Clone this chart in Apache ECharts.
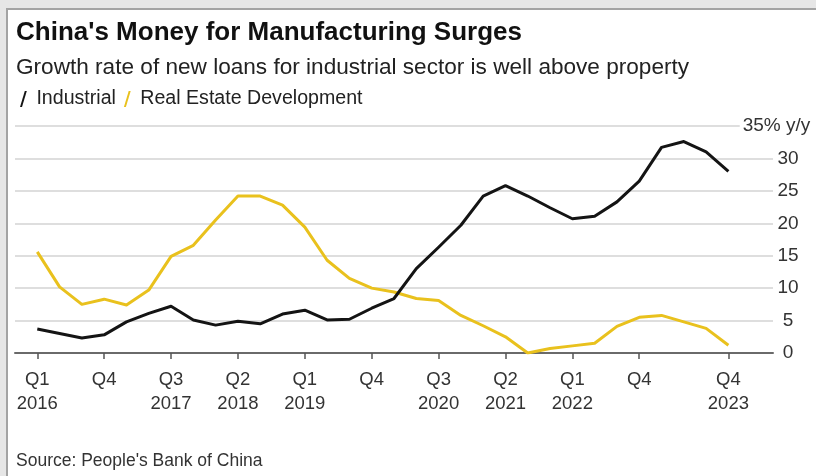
<!DOCTYPE html>
<html><head><meta charset="utf-8">
<script src="https://cdn.jsdelivr.net/npm/echarts@6/dist/echarts.min.js"></script>
<style>
html,body{margin:0;padding:0;width:816px;height:476px;overflow:hidden;background:#e6e6e6;}
#frame{position:absolute;left:6px;top:8px;width:810px;height:468px;background:#fff;border-left:2px solid #a3a3a3;border-top:2px solid #a3a3a3;box-sizing:border-box;}
#chart{position:absolute;left:0;top:0;width:816px;height:476px;}
</style></head><body>
<div id="frame"></div><div id="chart"></div>
<script>
const quarters = [
  'Q1 2016','Q2 2016','Q3 2016','Q4 2016',
  'Q1 2017','Q2 2017','Q3 2017','Q4 2017',
  'Q1 2018','Q2 2018','Q3 2018','Q4 2018',
  'Q1 2019','Q2 2019','Q3 2019','Q4 2019',
  'Q1 2020','Q2 2020','Q3 2020','Q4 2020',
  'Q1 2021','Q2 2021','Q3 2021','Q4 2021',
  'Q1 2022','Q2 2022','Q3 2022','Q4 2022',
  'Q1 2023','Q2 2023','Q3 2023','Q4 2023'
];
const industrial = [3.7, 3.0, 2.3, 2.8, 4.8, 6.1, 7.2, 5.1, 4.3, 4.9, 4.5, 6.0, 6.6, 5.1, 5.2, 6.9,
                    8.4, 13.0, 16.3, 19.7, 24.2, 25.8, 24.2, 22.4, 20.7, 21.1, 23.3, 26.5, 31.7, 32.6, 31.0, 28.0];
const realEstate = [15.6, 10.2, 7.5, 8.3, 7.4, 9.7, 14.9, 16.6, 20.5, 24.2, 24.2, 22.8, 19.4, 14.3, 11.5, 10.0,
                    9.4, 8.4, 8.1, 5.8, 4.2, 2.5, 0.0, 0.7, 1.1, 1.5, 4.1, 5.5, 5.8, 4.8, 3.8, 1.2];
const tickQuarters = ['Q1 2016','Q4 2016','Q3 2017','Q2 2018','Q1 2019','Q4 2019','Q3 2020','Q2 2021','Q1 2022','Q4 2022','Q4 2023'];
const tickLabels = ['Q1\n2016','Q4','Q3\n2017','Q2\n2018','Q1\n2019','Q4','Q3\n2020','Q2\n2021','Q1\n2022','Q4','Q4\n2023'];
const yTicks = [0, 5, 10, 15, 20, 25, 30, 35];
const unitLabel = '35% y/y';

const FONT = '"Liberation Sans", Arial, Helvetica, sans-serif';
const tickIdx = tickQuarters.map(q => quarters.indexOf(q));
const chart = echarts.init(document.getElementById('chart'), null, {renderer: 'canvas'});
const slash = 'path://M0,20 L6,0 L8.5,0 L2.5,20 Z';

chart.setOption({
  backgroundColor: 'transparent',
  animation: false,
  textStyle: {fontFamily: FONT},
  title: [
    {text: "China's Money for Manufacturing Surges", left: 11, top: 15,
     textStyle: {fontFamily: FONT, fontSize: 26, fontWeight: 'bold', color: '#111'}},
    {text: 'Growth rate of new loans for industrial sector is well above property', left: 11, top: 51,
     textStyle: {fontFamily: FONT, fontSize: 22.6, fontWeight: 'normal', color: '#222'}},
    {text: "Source: People's Bank of China", left: 11, top: 447,
     textStyle: {fontFamily: FONT, fontSize: 17.5, fontWeight: 'normal', color: '#333'}}
  ],
  legend: {
    left: 15, top: 84, itemWidth: 10, itemHeight: 16, itemGap: 8,
    icon: slash,
    textStyle: {fontFamily: FONT, fontSize: 19.6, color: '#222', padding: [0, 0, 0, 3]},
    data: ['Industrial', 'Real Estate Development']
  },
  grid: {left: 15, right: 43, top: 126, bottom: 123, containLabel: false, outerBoundsMode: 'none'},
  xAxis: {
    type: 'value', min: -1, max: 33,
    axisLine: {show: true, lineStyle: {color: '#6a6a6a', width: 2}},
    axisTick: {show: true, customValues: tickIdx, length: 6, lineStyle: {color: '#555', width: 1.5}},
    axisLabel: {
      customValues: tickIdx, margin: 15,
      formatter: v => tickLabels[tickIdx.indexOf(Math.round(v))] || '',
      fontFamily: FONT, fontSize: 18.5, color: '#333', lineHeight: 24
    },
    splitLine: {show: false}
  },
  yAxis: {
    type: 'value', position: 'right', min: 0, max: 35, interval: 5,
    axisLine: {show: false}, axisTick: {show: false},
    splitLine: {show: true, lineStyle: {color: '#dedede', width: 2}},
    axisLabel: {
      margin: 15, align: 'center',
      formatter: v => v === 35 ? '{u|' + unitLabel + '}' : String(v),
      fontFamily: FONT, fontSize: 19, color: '#333',
      rich: {u: {fontFamily: FONT, fontSize: 19, color: '#333', backgroundColor: '#fff', padding: [0, 26, 0, 3]}}
    }
  },
  series: [
    {name: 'Industrial', type: 'line', data: industrial.map((v, i) => [i, v]),
     showSymbol: false, symbol: 'none', color: '#141414',
     lineStyle: {width: 3, color: '#141414', join: 'round'}, z: 3},
    {name: 'Real Estate Development', type: 'line', data: realEstate.map((v, i) => [i, v]),
     showSymbol: false, symbol: 'none', color: '#e9c11d',
     lineStyle: {width: 3, color: '#e9c11d', join: 'round'}, z: 2}
  ]
});
</script>
</body></html>
